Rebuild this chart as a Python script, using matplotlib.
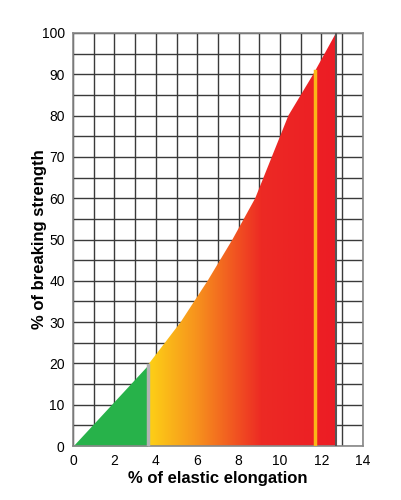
import numpy as np
import matplotlib
matplotlib.use('Agg')
import matplotlib.pyplot as plt
from matplotlib.colors import LinearSegmentedColormap
from matplotlib.patches import Polygon

# -- data
elong = [0.0, 3.6, 5.2, 6.5, 7.7, 8.8, 9.6, 10.4, 11.6, 12.7]
strength = [0, 19.5, 30, 40, 50, 60, 70, 80, 90, 100]
split_x = 3.6        # end of the green (elastic) zone
mark_x = 11.7        # yellow marker line
xticks = [0, 2, 4, 6, 8, 10, 12, 14]
yticks = [0, 10, 20, 30, 40, 50, 60, 70, 80, 90, 100]

plt.rcParams['font.family'] = ['Liberation Sans', 'DejaVu Sans']

fig = plt.figure(figsize=(4.01, 5.0), dpi=100)
ax = fig.add_axes([0.182, 0.108, 0.723, 0.826])
ax.set_xlim(0, 14)
ax.set_ylim(0, 100)

ax.set_xticks(xticks)
ax.set_yticks(yticks)
# grid: every 1 on x, every 5 on y
ax.set_xticks(np.arange(0, 15, 1), minor=True)
ax.set_yticks(np.arange(0, 101, 5), minor=True)
ax.grid(which='both', color='#3a3a3a', lw=1.0, zorder=0)
ax.set_axisbelow(True)

x = np.array(elong)
y = np.array(strength)

# green zone
xg = np.linspace(0, split_x, 20)
yg = np.interp(xg, x, y)
ax.fill_between(xg, 0, yg, color='#27b24a', lw=0, zorder=2)

# gradient zone
end_x = x[-1]
verts = [(split_x, 0)]
for xi, yi in zip(x, y):
    if xi >= split_x:
        verts.append((xi, yi))
verts.append((end_x, 0))
poly = Polygon(verts, closed=True, facecolor='none', edgecolor='none')
ax.add_patch(poly)
cmap = LinearSegmentedColormap.from_list(
    'g', [(0, '#fdd116'), (0.25, '#f7941d'), (0.6, '#ed2a24'), (1, '#ec1c24')])
grad = np.linspace(0, 1, 256).reshape(1, -1)
im = ax.imshow(grad, cmap=cmap, aspect='auto', extent=[split_x, end_x, 0, 100],
               zorder=2)
im.set_clip_path(poly)

# separator lines
ax.plot([split_x, split_x], [0, np.interp(split_x, x, y)], color='#b3b3b3', lw=2.5, zorder=3)
ax.plot([mark_x, mark_x], [0, np.interp(mark_x, x, y)], color='#fbb617', lw=2.5, zorder=3)
ax.plot([end_x, end_x], [0, 100], color='#555555', lw=1.5, zorder=3)

ax.tick_params(which='both', length=0, labelsize=10, pad=6)
for s in ax.spines.values():
    s.set_color('#888888')
    s.set_linewidth(1.2)
ax.set_xlabel('% of elastic elongation', fontsize=12, fontweight='bold', labelpad=2)
ax.set_ylabel('% of breaking strength', fontsize=12, fontweight='bold')
ax.yaxis.set_label_coords(-0.09, 0.5)

fig.savefig('out.png', dpi=100)
